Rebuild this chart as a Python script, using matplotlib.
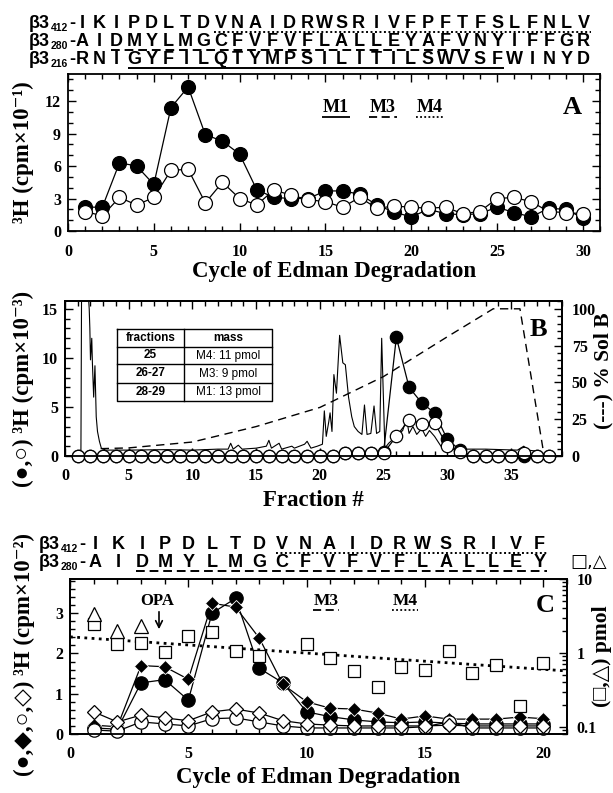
import numpy as np
import matplotlib
matplotlib.use('Agg')
import matplotlib.pyplot as plt
from matplotlib.ticker import MultipleLocator, LogLocator, NullFormatter, FixedLocator, FixedFormatter

# ---------------- data ----------------
cycA = np.arange(1, 31)
A_filled = [2.2, 2.2, 6.3, 6.0, 4.3, 11.4, 13.3, 8.9, 8.3, 7.1, 3.8, 3.1, 3.0, 3.0, 3.7,
            3.7, 3.4, 2.4, 1.75, 1.3, 2.0, 1.6, 1.5, 1.6, 2.2, 1.7, 1.3, 2.1, 2.0, 1.2]
A_open = [1.8, 1.4, 3.1, 2.4, 3.1, 5.6, 5.7, 2.6, 4.5, 3.0, 2.4, 3.8, 3.3, 2.9, 2.7,
          2.2, 3.1, 2.1, 2.3, 2.2, 2.1, 2.2, 1.6, 1.8, 3.0, 3.1, 2.7, 1.8, 1.7, 1.6]

fracB = np.arange(1, 39)
B_filled = [0]*21 + [0.3, 0.3, 0.3, 0.4] + [12.1, 7.0, 5.4, 4.4, 1.7, 0.6] + [0]*7
B_open = [0]*21 + [0.3, 0.3, 0.3, 0.3] + [2.0, 3.7, 3.3, 3.4, 1.0, 0.4] + [0, 0, 0, 0, 0.3, 0, 0]
trace_x = [1.0, 1.25, 1.3, 1.8, 1.9, 1.95, 2.0, 2.1, 2.15, 2.25, 2.35, 2.45, 2.55, 2.7, 2.85,
           3.2, 5.0, 8.0, 10.0, 12.0, 12.8, 13.0, 13.2, 13.6, 13.9, 15.0, 15.8, 16.0, 16.2,
           16.8, 17.0, 17.8, 18.0, 18.8, 19.0, 19.3, 19.8, 20.2, 20.35, 20.5, 20.7, 20.8,
           20.95, 21.1, 21.3, 21.55, 21.8, 22.0, 22.25, 22.5, 22.7, 23.0, 23.3, 23.5, 23.7,
           24.0, 24.25, 24.45, 24.7, 24.85, 25.1, 25.4, 26.0, 26.5, 26.8, 27.0, 27.3, 27.6,
           28.0, 28.3, 28.6, 29.0, 29.5, 30.0, 33.0, 35.5, 36.0, 36.3, 37.0]
trace_y = [0.5, 0.6, 17.0, 17.0, 15.0, 13.0, 9.8, 12.0, 9.5, 6.0, 9.2, 4.0, 2.5, 1.5, 0.8,
           0.6, 0.6, 0.65, 0.6, 0.7, 0.7, 1.3, 0.7, 1.1, 0.7, 0.8, 1.0, 1.6, 0.8,
           1.3, 0.7, 1.0, 0.8, 1.2, 1.5, 0.8, 1.0, 1.2, 4.6, 2.0, 3.5, 4.4,
           2.5, 8.3, 6.4, 12.3, 9.5, 9.3, 6.0, 4.0, 3.0, 2.5, 2.2, 5.2, 2.2,
           2.3, 5.1, 2.3, 2.5, 12.0, 0.8, 1.3, 2.0, 2.6, 3.8, 2.3, 3.0, 2.2,
           2.8, 2.0, 2.6, 2.0, 1.0, 0.7, 0.7, 0.6, 1.0, 0.6, 0.5]
grad_x = [2.8, 5, 10, 15, 20, 25, 30, 33.6, 35.7, 37.6]
grad_y = [5, 5.5, 9.5, 20, 33, 54, 81, 100, 100, 0]
table_rows = [("fractions", "mass"), ("25", "M4: 11 pmol"),
              ("26-27", "M3: 9 pmol"), ("28-29", "M1: 13 pmol")]

cycC = np.arange(1, 21)
C_fcirc = [0.15, 0.12, 1.27, 1.35, 0.84, 3.0, 3.37, 1.63, 1.27, 0.55, 0.43, 0.35, 0.3, 0.28,
           0.3, 0.27, 0.25, 0.25, 0.25, 0.25]
C_fdiam = [0.22, 0.18, 1.7, 1.67, 1.36, 3.25, 3.15, 2.38, 1.23, 0.8, 0.64, 0.62, 0.52, 0.37,
           0.45, 0.37, 0.37, 0.37, 0.42, 0.38]
C_ocirc = [0.1, 0.07, 0.3, 0.25, 0.2, 0.38, 0.4, 0.3, 0.2, 0.15, 0.15, 0.15, 0.15, 0.15,
           0.18, 0.3, 0.15, 0.15, 0.15, 0.15]
C_odiam = [0.55, 0.3, 0.47, 0.4, 0.33, 0.55, 0.62, 0.52, 0.33, 0.25, 0.22, 0.2, 0.2, 0.2,
           0.2, 0.22, 0.2, 0.2, 0.2, 0.2]
C_square = [2.5, 1.32, 1.36, 1.03, 1.7, 1.9, 1.07, 0.91, np.nan, 1.32, 0.86, 0.57, 0.35,
            0.65, 0.59, 1.06, 0.54, 0.69, 0.19, 0.73]
C_tri_x = [1, 2, 3]
C_tri = [3.4, 2.0, 2.3]
fit_x = [0, 21]
fit_y = [1.65, 0.57]

seqA = ["IKIPDLTDVNAIDRWSRIVFPFTFSLFNLV",
        "AIDMYLMGCFVFVFLALLEYAFVNYIFFGR",
        "RNIGYFILQTYMPSILITILSWVSFWINYD"]
seqA_sub = ["412", "280", "216"]
seqA_ul = [(9, 30, 'dotted'), (3, 23, 'dashed'), (4, 25, 'solid')]
seqC = ["IKIPDLTDVNAIDRWSRIVF", "AIDMYLMGCFVFVFLALLEY"]
seqC_sub = ["412", "280"]
seqC_ul = [(9, 20, 'dotted'), (3, 20, 'dashed')]

# ---------------- figure ----------------
W, H = 613, 793
SERIF = ['Liberation Serif', 'DejaVu Serif', 'DejaVu Sans']
SANS = ['Liberation Sans Narrow', 'Liberation Sans', 'DejaVu Sans']
plt.rcParams['font.family'] = SERIF
plt.rcParams['font.weight'] = 'bold'
plt.rcParams['font.size'] = 11.5
plt.rcParams['axes.linewidth'] = 1.3

fig = plt.figure(figsize=(W / 100, H / 100), dpi=100)


def rect(l, t, r, b):
    return [l / W, 1 - b / H, (r - l) / W, (b - t) / H]


axA = fig.add_axes(rect(68, 74, 600, 231))
axB = fig.add_axes(rect(65, 301, 562, 456))
axC = fig.add_axes(rect(70, 579, 567, 734))
ov = fig.add_axes([0, 0, 1, 1], zorder=10)
ov.set_xlim(0, W)
ov.set_ylim(H, 0)
ov.axis('off')


def style(ax, xmaj, xmin, ymaj, ymin, right=True, top=True):
    ax.xaxis.set_major_locator(MultipleLocator(xmaj))
    ax.xaxis.set_minor_locator(MultipleLocator(xmin))
    ax.yaxis.set_major_locator(MultipleLocator(ymaj))
    ax.yaxis.set_minor_locator(MultipleLocator(ymin))
    ax.tick_params(which='both', direction='in', top=top, right=right, width=1.0)
    ax.tick_params(which='major', length=6)
    ax.tick_params(which='minor', length=3.5)
    ax.tick_params(axis='x', pad=9)
    ax.tick_params(axis='y', pad=5)


lw_line = 0.9
mew = 0.9

# ---------------- Panel A ----------------
axA.set_xlim(0, 31)
axA.set_ylim(0, 14.5)
style(axA, 5, 1, 3, 1)
axA.plot(cycA, A_filled, '-', color='k', lw=lw_line, marker='o', ms=10, mfc='k', mec='k',
         mew=mew, clip_on=False, zorder=3)
axA.plot(cycA, A_open, '-', color='k', lw=lw_line, marker='o', ms=10, mfc='white', mec='k',
         mew=mew, clip_on=False, zorder=4)

# ---------------- Panel B ----------------
axB.set_xlim(0, 39)
axB.set_ylim(0, 15.8)
style(axB, 5, 1, 5, 1, right=False)
axB.plot(trace_x, trace_y, '-', color='k', lw=0.8, zorder=2)
axB.plot(fracB, B_filled, '-', color='k', lw=lw_line, marker='o', ms=8.9, mfc='k', mec='k',
         mew=mew, clip_on=False, zorder=3)
axB.plot(fracB, B_open, '-', color='k', lw=lw_line, marker='o', ms=8.9, mfc='white', mec='k',
         mew=mew, clip_on=False, zorder=4)
axB2 = axB.twinx()
axB2.set_ylim(0, 105.3)
axB2.yaxis.set_major_locator(MultipleLocator(25))
axB2.yaxis.set_minor_locator(MultipleLocator(5))
axB2.tick_params(which='both', direction='in', right=True, width=1.0, pad=7)
axB2.tick_params(which='major', length=6)
axB2.tick_params(which='minor', length=3.5)
axB2.plot(grad_x, grad_y, color='k', lw=1.0, ls=(0, (6, 4)))

# ---------------- Panel C ----------------
axC.set_xlim(0, 21)
axC.set_ylim(0, 3.85)
style(axC, 5, 1, 1, 0.2, right=False)
axC.plot(cycC, C_fcirc, '-', color='k', lw=lw_line, marker='o', ms=9.6, mfc='k', mec='k',
         mew=mew, clip_on=False, zorder=3)
axC.plot(cycC, C_fdiam, '-', color='k', lw=lw_line, marker='D', ms=7.6, mfc='k', mec='white',
         mew=0.6, clip_on=False, zorder=4)
axC.plot(cycC, C_ocirc, '-', color='k', lw=lw_line, marker='o', ms=9.6, mfc='white', mec='k',
         mew=mew, clip_on=False, zorder=5)
axC.plot(cycC, C_odiam, '-', color='k', lw=lw_line, marker='D', ms=7.6, mfc='white', mec='k',
         mew=mew, clip_on=False, zorder=6)
axC2 = axC.twinx()
axC2.set_yscale('log')
axC2.set_ylim(0.08, 10)
axC2.yaxis.set_major_locator(FixedLocator([0.1, 1, 10]))
axC2.yaxis.set_major_formatter(FixedFormatter(['0.1', '1', '10']))
axC2.yaxis.set_minor_locator(LogLocator(base=10, subs=np.arange(2, 10)))
axC2.yaxis.set_minor_formatter(NullFormatter())
axC2.tick_params(which='both', direction='in', right=True, width=1.0, pad=7)
axC2.tick_params(which='major', length=6)
axC2.tick_params(which='minor', length=3.5)
axC2.plot(fit_x, fit_y, color='k', lw=2.0, ls=(0, (1, 1.6)))
axC2.plot(cycC, C_square, ls='none', marker='s', ms=9.3, mfc='white', mec='k', mew=mew,
          clip_on=False)
axC2.plot(C_tri_x, C_tri, ls='none', marker='^', ms=10, mfc='white', mec='k', mew=mew,
          clip_on=False)

for ax in (axA, axB, axC, axB2, axC2):
    for lab in ax.get_xticklabels() + ax.get_yticklabels():
        lab.set_fontweight('bold')

# ---------------- texts ----------------
def T(x, y, s, size, **kw):
    kw.setdefault('ha', 'center')
    kw.setdefault('va', 'center')
    kw.setdefault('fontweight', 'bold')
    return ov.text(x, y, s, fontsize=size, **kw)


def uline(x0, x1, y, style, lw=1.4):
    ls = {'solid': '-', 'dashed': (0, (4.5, 2.5)), 'dotted': (0, (1, 1.3))}[style]
    ov.plot([x0, x1], [y, y], color='k', lw=lw, ls=ls, solid_capstyle='butt')


# axis labels
T(334, 271, "Cycle of Edman Degradation", 16.5)
T(313, 500, "Fraction #", 16.5)
T(318, 778, "Cycle of Edman Degradation", 16.5)
T(23, 152, "³H (cpm×10⁻¹)", 16.5, rotation=90)
T(23, 389, "(●,○) ³H (cpm×10⁻³)", 16.5, rotation=90)
T(24, 655, "(●,◆,○,◇) ³H (cpm×10⁻²)", 16.5, rotation=90)
T(603, 371, "(---) % Sol B", 15.5, rotation=90)
T(602, 656, "(□,△) pmol", 15.5, rotation=90)

# panel letters
T(572, 107, "A", 19)
T(538, 329, "B", 19)
T(545, 605, "C", 19)

# M labels in A
for (xc, lab, st) in [(336, "M1", 'solid'), (383, "M3", 'dashed'), (430, "M4", 'dotted')]:
    T(xc, 108, lab, 13)
    uline(xc - 14, xc + 14, 117, st, lw=1.3)
# M labels in C
for (xc, lab, st) in [(326, "M3", 'dashed'), (405, "M4", 'dotted')]:
    T(xc, 601, lab, 12.5)
    uline(xc - 13, xc + 13, 610, st, lw=1.3)
T(157, 601, "OPA", 12)
ov.annotate('', xy=(159, 632), xytext=(159, 609),
            arrowprops=dict(arrowstyle='->', lw=1.2, color='k', mutation_scale=12))


# sequences
def seq_rows(rows, subs, uls, base_ys, x_first, x_step, pre_right, size=13):
    for row, sub, ul, by in zip(rows, subs, uls, base_ys):
        T(pre_right, by, "β3", size, ha='right', va='baseline', family=SANS)
        T(pre_right + 0.5, by + 3, sub, 7.5, ha='left', va='baseline', family=SANS)
        T(pre_right + 19.0, by, "-", size, ha='left', va='baseline', family=SANS)
        xs = [x_first + i * x_step for i in range(len(row))]
        for x, ch in zip(xs, row):
            T(x, by, ch, size, va='baseline', family=SANS)
        a, b, st = ul
        uline(xs[a - 1] - 6, xs[b - 1] + 7, by + 3.5, st, lw=1.4)


seq_rows(seqA, seqA_sub, seqA_ul, [28, 46, 64], 82, 17.3, 50)
seq_rows(seqC, seqC_sub, seqC_ul, [549, 567], 95, 23.4, 60)
T(589, 562, "□,△", 13, family=['DejaVu Sans'], fontweight='normal')

# table in B
tl, tr, tt, tb, tm = 117, 272, 329, 401, 184
rows_y = [329, 347, 364, 383, 401]
ov.plot([tl, tr, tr, tl, tl], [tt, tt, tb, tb, tt], color='k', lw=1.0)
ov.plot([tm, tm], [tt, tb], color='k', lw=1.0)
for yy in rows_y[1:-1]:
    ov.plot([tl, tr], [yy, yy], color='k', lw=1.0)
for i, (c1, c2) in enumerate(table_rows):
    yc = (rows_y[i] + rows_y[i + 1]) / 2
    T((tl + tm) / 2, yc, c1, 8.5, family=SANS, fontweight='bold')
    T((tm + tr) / 2, yc, c2, 8.5, family=SANS,
      fontweight='bold' if i == 0 else 'normal')

fig.savefig('out.png', dpi=100)
